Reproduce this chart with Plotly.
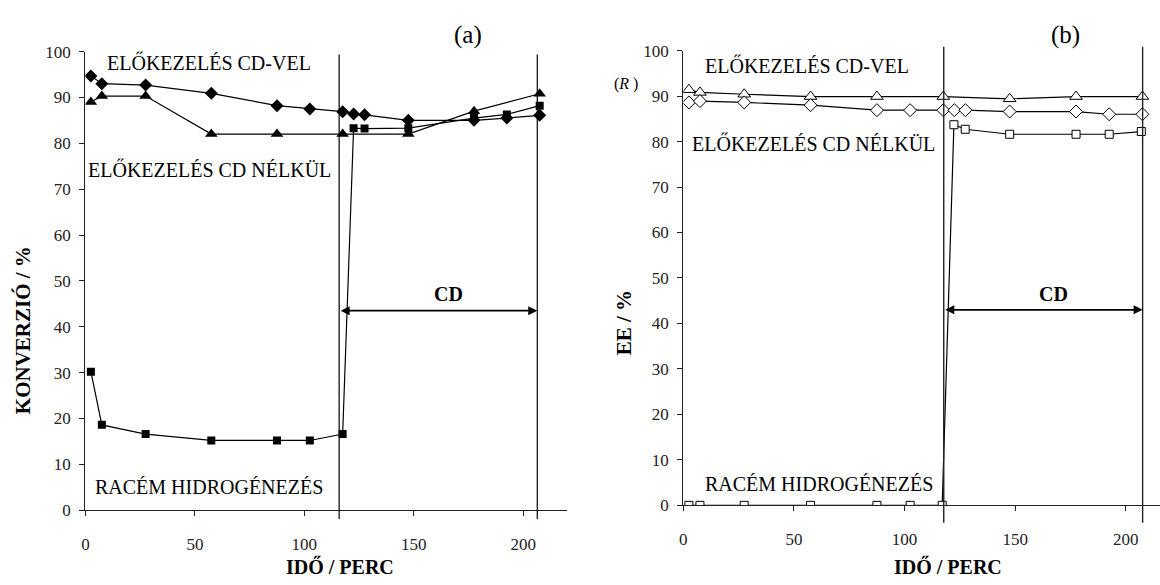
import plotly.graph_objects as go

# ---- data: (a) conversion, (b) enantiomeric excess, time in minutes ----
t_diamond = [2.5, 7.5, 27.5, 57.5, 87.5, 102.5, 117.5, 122.5, 127.5, 147.5, 177.5, 192.5, 207.5]
t_triangle = [2.5, 7.5, 27.5, 57.5, 87.5, 117.5, 147.5, 177.5, 207.5]
t_square = [2.5, 7.5, 27.5, 57.5, 87.5, 102.5, 117.5, 122.5, 127.5, 147.5, 177.5, 192.5, 207.5]

conv_cd_vel = [94.7, 93.0, 92.7, 90.9, 88.2, 87.5, 86.9, 86.4, 86.2, 85.0, 85.0, 85.5, 86.1]
conv_cd_nelkul = [89.0, 90.3, 90.3, 82.0, 82.0, 82.0, 82.0, 87.0, 90.8]
conv_racem = [30.2, 18.6, 16.6, 15.2, 15.2, 15.2, 16.6, 83.3, 83.2, 83.3, 85.5, 86.3, 88.2]

t_b_triangle = [2.5, 7.5, 27.5, 57.5, 87.5, 117.5, 147.5, 177.5, 207.5]
t_b_diamond = [2.5, 7.5, 27.5, 57.5, 87.5, 102.5, 117.5, 122.5, 127.5, 147.5, 177.5, 192.5, 207.5]
t_b_square = [2.5, 7.5, 27.5, 57.5, 87.5, 102.5, 117.0, 122.3, 127.4, 147.5, 177.5, 192.5, 207.0]

ee_cd_vel = [91.4, 90.8, 90.4, 89.9, 89.9, 89.9, 89.4, 89.9, 89.9]
ee_cd_nelkul = [88.6, 88.9, 88.6, 88.0, 86.9, 86.9, 86.9, 86.9, 86.9, 86.6, 86.6, 86.0, 86.0]
ee_racem = [0, 0, 0, 0, 0, 0, 0, 83.7, 82.7, 81.6, 81.6, 81.6, 82.2]

# CD addition window (start, end) for each panel
cd_window_a = [115.9, 206.4]
cd_window_b = [117.7, 207.6]

y_ticks = [0, 10, 20, 30, 40, 50, 60, 70, 80, 90, 100]
x_ticks = [0, 50, 100, 150, 200]

W, H = 1160, 585
FONT = "'Liberation Serif', 'Times New Roman', Times, 'DejaVu Serif', serif"


def px(x):
    return x / W


def py(y):
    return 1 - y / H


fig = go.Figure()

line = dict(color="black", width=1.2)

# panel (a): filled markers
fig.add_trace(go.Scatter(x=t_diamond, y=conv_cd_vel, mode="lines+markers", line=line,
                         marker=dict(symbol="diamond", size=10, color="black"),
                         xaxis="x", yaxis="y", showlegend=False))
fig.add_trace(go.Scatter(x=t_triangle, y=conv_cd_nelkul, mode="lines+markers", line=line,
                         marker=dict(symbol="triangle-up", size=11, color="black"),
                         xaxis="x", yaxis="y", showlegend=False))
fig.add_trace(go.Scatter(x=t_square, y=conv_racem, mode="lines+markers", line=line,
                         marker=dict(symbol="square", size=8, color="black"),
                         xaxis="x", yaxis="y", showlegend=False))

# panel (b): open markers
open_m = dict(color="white", line=dict(color="black", width=1))
fig.add_trace(go.Scatter(x=t_b_triangle, y=ee_cd_vel, mode="lines+markers", line=line,
                         marker=dict(symbol="triangle-up", size=11, **open_m),
                         xaxis="x2", yaxis="y2", showlegend=False))
fig.add_trace(go.Scatter(x=t_b_diamond, y=ee_cd_nelkul, mode="lines+markers", line=line,
                         marker=dict(symbol="diamond", size=10, **open_m),
                         xaxis="x2", yaxis="y2", showlegend=False))
fig.add_trace(go.Scatter(x=t_b_square, y=ee_racem, mode="lines+markers", line=line,
                         marker=dict(symbol="square", size=8, **open_m),
                         xaxis="x2", yaxis="y2", showlegend=False))

axis_common = dict(showgrid=False, zeroline=False, showline=True, linecolor="#222", linewidth=1.3,
                   ticks="outside", ticklen=5, tickcolor="#222", tickwidth=1.2,
                   tickfont=dict(family=FONT, size=17, color="#222"))

fig.update_layout(
    width=W, height=H, margin=dict(l=0, r=0, t=0, b=0),
    paper_bgcolor="white", plot_bgcolor="white",
    font=dict(family=FONT),
    xaxis=dict(domain=[px(81.7), px(565)], range=[0, 220], tickvals=x_ticks,
               anchor="y", ticklabelstandoff=13, **axis_common),
    yaxis=dict(domain=[py(518), py(44)], range=[0, 100], tickvals=y_ticks,
               anchor="x", ticklabelstandoff=5, **axis_common),
    xaxis2=dict(domain=[px(681.7), 1.0], range=[0, (W - 681.7) / 2.22], tickvals=x_ticks,
                anchor="y2", ticklabelstandoff=13, **axis_common),
    yaxis2=dict(domain=[py(513), py(43)], range=[0, 100], tickvals=y_ticks,
                anchor="x2", ticklabelstandoff=5, **axis_common),
)

# vertical markers of the CD window
shapes = []
for xv in cd_window_a:
    shapes.append(dict(type="line", xref="x", yref="paper", x0=xv, x1=xv,
                       y0=py(527), y1=py(47), line=dict(color="black", width=1.2)))
for xv in cd_window_b:
    shapes.append(dict(type="line", xref="x2", yref="paper", x0=xv, x1=xv,
                       y0=py(531), y1=py(39), line=dict(color="#222", width=1.4)))
fig.update_layout(shapes=shapes)

ann = []


def text(x, y, s, size=20, bold=False, xanchor="center", angle=0):
    ann.append(dict(xref="paper", yref="paper", x=px(x), y=py(y), text=f"<b>{s}</b>" if bold else s,
                    showarrow=False, xanchor=xanchor, yanchor="middle", textangle=angle,
                    font=dict(family=FONT, size=size, color="black")))


# panel (a) labels
text(466, 27, "(a)", size=25)
text(101, 55, "ELŐKEZELÉS CD-VEL", xanchor="left")
text(82, 166, "ELŐKEZELÉS CD NÉLKÜL", xanchor="left")
text(89.5, 494, "RACÉM HIDROGÉNEZÉS", xanchor="left")
text(337, 576, "IDŐ / PERC", bold=True)
text(19, 332, "KONVERZIÓ / %", size=21, bold=True, angle=-90)
text(446, 295, "CD", bold=True)

# panel (b) labels
text(1065, 27, "(b)", size=25)
text(624, 78, "(<i>R</i> )", size=16)
text(701, 58, "ELŐKEZELÉS CD-VEL", xanchor="left")
text(688, 139, "ELŐKEZELÉS CD NÉLKÜL", xanchor="left")
text(701, 491, "RACÉM HIDROGÉNEZÉS", xanchor="left")
text(947, 576, "IDŐ / PERC", bold=True)
text(623, 324, "EE / %", size=21, bold=True, angle=-90)
text(1053, 295, "CD", bold=True)

# double-headed arrows spanning the CD window
for xa, ya, yv, win in (("x", "y", 43.5, cd_window_a), ("x2", "y2", 43.0, cd_window_b)):
    ann.append(dict(xref=xa, yref=ya, axref=xa, ayref=ya, x=win[1], y=yv, ax=win[0], ay=yv,
                    showarrow=True, arrowhead=2, startarrowhead=2, arrowside="end+start",
                    arrowsize=1, arrowwidth=1.8, arrowcolor="black", text=""))

fig.update_layout(annotations=ann)

# page without the default body margin so the figure fills the window exactly
fig.write_html("out.html", post_script="document.body.style.margin='0';")
